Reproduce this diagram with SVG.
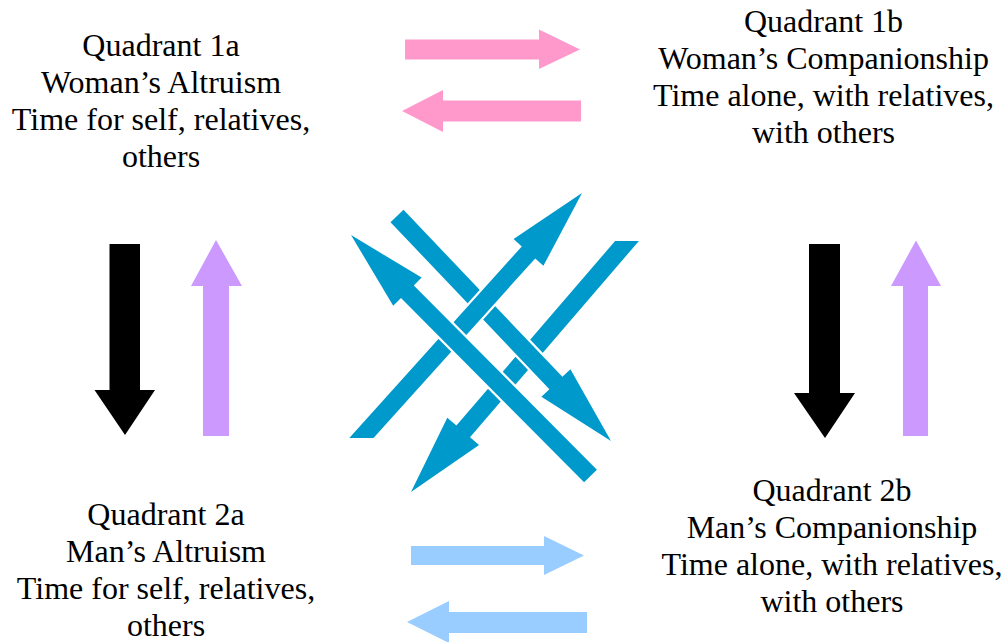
<svg xmlns="http://www.w3.org/2000/svg" width="1008" height="642" viewBox="0 0 1008 642">
<style>
.t{font-family:'Liberation Serif','DejaVu Serif',serif;font-size:32px;fill:#000;text-anchor:middle}
.pink{fill:#FF99CC}
.lblue{fill:#99CCFF}
.purple{fill:#CC99FF}
.black{fill:#000}
.blue{fill:#0099CC;stroke:#fff;stroke-width:4.5;paint-order:stroke;stroke-linejoin:miter}
</style>
<rect width="1008" height="642" fill="#fff"/>
<g id="q1a" class="t" font-family="Liberation Serif, serif">
<text x="161" y="56">Quadrant 1a</text>
<text x="161" y="93">Woman’s Altruism</text>
<text x="161" y="130">Time for self, relatives,</text>
<text x="161" y="167">others</text>
</g>
<g id="q1b" class="t" font-family="Liberation Serif, serif">
<text x="823.5" y="32">Quadrant 1b</text>
<text x="823.5" y="69">Woman’s Companionship</text>
<text x="823.5" y="106">Time alone, with relatives,</text>
<text x="823.5" y="143">with others</text>
</g>
<g id="q2a" class="t" font-family="Liberation Serif, serif">
<text x="166" y="525">Quadrant 2a</text>
<text x="166" y="562">Man’s Altruism</text>
<text x="166" y="599">Time for self, relatives,</text>
<text x="166" y="636">others</text>
</g>
<g id="q2b" class="t" font-family="Liberation Serif, serif">
<text x="832" y="501">Quadrant 2b</text>
<text x="832" y="538">Man’s Companionship</text>
<text x="832" y="575">Time alone, with relatives,</text>
<text x="832" y="612">with others</text>
</g>
<g id="connectors">
<polygon class="pink" points="405,39.5 539,39.5 539,29.5 580,49.5 539,69 539,59.5 405,59.5"/>
<polygon class="pink" points="581,100.5 443,100.5 443,90 402,111 443,132 443,121.5 581,121.5"/>
<polygon class="lblue" points="411,546 544,546 544,536 584,555.5 544,575 544,565 411,565"/>
<polygon class="lblue" points="587,612 449,612 449,601 407,622 449,643 449,633 587,633"/>
<polygon class="black" points="109.5,244 140,244 140,390 155,390 125,435 94.5,390 109.5,390"/>
<polygon class="purple" points="203,436 229,436 229,286 242,286 216,240 191,286 203,286"/>
<polygon class="black" points="809,244 840,244 840,393 855,393 825,438 794,393 809,393"/>
<polygon class="purple" points="903,436 928,436 928,286 941,286 916,240.5 891,286 903,286"/>
<g id="cross">
<polygon class="blue" points="615.1,241 456.4,425.5 447.3,417.7 411,492 479.1,445.1 470,437.3 638.9,241"/>
<polygon class="blue" points="403.5,209.8 562.4,376.8 570.4,369.2 611,441 541.4,396.8 549.4,389.2 390.5,222.2"/>
<polygon class="blue" points="349.3,438 521.8,246.4 513.6,239 582,193 543.4,265.8 535.2,258.4 373.5,438"/>
<polygon class="blue" points="596.9,469.7 413.8,285.4 421.6,277.6 351,235 393.2,305.8 401,298 584.1,482.3"/>
</g>
</g>
</svg>
